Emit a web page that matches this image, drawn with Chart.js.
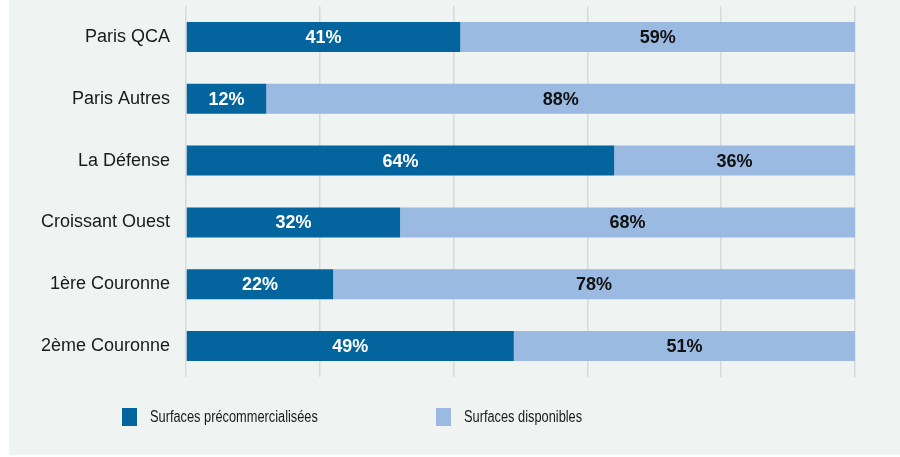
<!DOCTYPE html>
<html>
<head>
<meta charset="utf-8">
<script src="https://cdn.jsdelivr.net/npm/chart.js@4/dist/chart.umd.min.js"></script>
<style>
    html, body { margin: 0; padding: 0; background: #ffffff; }
    #wrap {
        position: absolute; left: 9px; top: 0; width: 891px; height: 455px;
        background: #eff3f2;
    }
    #chart { position: absolute; left: 0; top: 0; }
    .legend-item {
        position: absolute; top: 408px; height: 18px;
        font: 16px "Liberation Sans", Arial, sans-serif; color: #1a1a1a;
        line-height: 18px; white-space: nowrap;
    }
    .legend-item span.box {
        position: absolute; left: 0; top: 0; width: 15px; height: 18px;
    }
    .legend-item span.txt {
        position: absolute; left: 28px; top: 0;
        transform: scaleX(0.8); transform-origin: left center;
    }
</style>
</head>
<body>
<div id="wrap">
    <canvas id="chart" width="891" height="455"></canvas>
    <div id="legend"></div>
</div>
<script>
    // data
    const categories = ['Paris QCA', 'Paris Autres', 'La Défense', 'Croissant Ouest', '1ère Couronne', '2ème Couronne'];
    const precommercialisees = [41, 12, 64, 32, 22, 49];
    const disponibles = [59, 88, 36, 68, 78, 51];
    const seriesNames = ['Surfaces précommercialisées', 'Surfaces disponibles'];
    const seriesColors = ['#03649e', '#9bbae2'];
    const labelColors = ['#ffffff', '#111111'];

    // values written in the middle of each bar
    const barLabels = {
        id: 'barLabels',
        afterDatasetsDraw(chart) {
            const ctx = chart.ctx;
            ctx.save();
            ctx.font = 'bold 18px "Liberation Sans", Arial, sans-serif';
            ctx.textAlign = 'center';
            ctx.textBaseline = 'middle';
            chart.data.datasets.forEach((ds, i) => {
                const meta = chart.getDatasetMeta(i);
                ctx.fillStyle = labelColors[i];
                meta.data.forEach((bar, j) => {
                    const p = bar.getCenterPoint();
                    ctx.fillText(ds.data[j] + '%', p.x, p.y + 1);
                });
            });
            ctx.restore();
        }
    };

    new Chart(document.getElementById('chart'), {
        type: 'bar',
        data: {
            labels: categories,
            datasets: [{
                label: seriesNames[0],
                data: precommercialisees,
                backgroundColor: seriesColors[0],
                barPercentage: 0.97,
                categoryPercentage: 0.5
            }, {
                label: seriesNames[1],
                data: disponibles,
                backgroundColor: seriesColors[1],
                barPercentage: 0.97,
                categoryPercentage: 0.5
            }]
        },
        options: {
            indexAxis: 'y',
            responsive: false,
            animation: false,
            layout: { padding: { top: 6, right: 45, bottom: 78, left: 0 } },
            plugins: {
                legend: { display: false },
                tooltip: { enabled: false }
            },
            scales: {
                x: {
                    stacked: true,
                    min: 0,
                    max: 100,
                    afterFit(scale) { scale.height = 0; scale.paddingLeft = 0; scale.paddingRight = 0; },
                    ticks: { display: false, stepSize: 20 },
                    grid: { color: '#d9d9d9', lineWidth: 1.5, drawTicks: false },
                    border: { display: false }
                },
                y: {
                    stacked: true,
                    afterFit(scale) { scale.width = 177; scale.paddingTop = 0; scale.paddingBottom = 0; },
                    ticks: {
                        padding: 16,
                        color: '#1a1a1a',
                        font: { family: '"Liberation Sans", Arial, sans-serif', size: 18 }
                    },
                    grid: { display: false, drawTicks: false },
                    border: { display: false }
                }
            }
        },
        plugins: [barLabels]
    });

    // legend below the chart
    const legend = document.getElementById('legend');
    const legendLeft = [113, 427];
    seriesNames.forEach((name, i) => {
        const item = document.createElement('div');
        item.className = 'legend-item';
        item.style.left = legendLeft[i] + 'px';
        item.innerHTML = '<span class="box" style="background:' + seriesColors[i] + '"></span>' +
            '<span class="txt">' + name + '</span>';
        legend.appendChild(item);
    });
</script>
</body>
</html>
